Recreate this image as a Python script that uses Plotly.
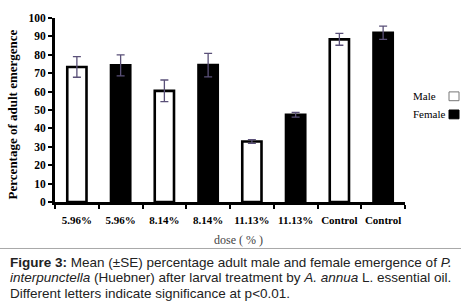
import plotly.graph_objects as go

# ---- data ----
categories = ["5.96%", "5.96%", "8.14%", "8.14%", "11.13%", "11.13%", "Control", "Control"]
male_values = [73.4, 60.4, 32.9, 88.4]
male_se = [5.6, 5.9, 1.0, 3.2]
female_values = [74.3, 74.4, 47.4, 92.0]
female_se = [5.7, 6.4, 1.3, 3.6]
y_ticks = [0, 10, 20, 30, 40, 50, 60, 70, 80, 90, 100]

male_x = [0, 2, 4, 6]
female_x = [1, 3, 5, 7]
positions = list(range(len(categories)))
boundaries = [p - 0.5 for p in positions] + [positions[-1] + 0.5]

W, H = 461, 308
ML, MR, MT, MB = 55, 56, 14, 106
PW, PH = W - ML - MR, H - MT - MB


def px_x(px):
    return (px - ML) / PW


def px_y(py):
    return (H - MB - py) / PH


serif = "Liberation Serif, Times New Roman, serif"
sans = "Liberation Sans, Arial, sans-serif"
err_color = "#5a5078"

fig = go.Figure()
fig.add_trace(go.Bar(
    x=male_x, y=male_values, name="Male", width=0.44,
    marker=dict(color="white", line=dict(color="black", width=2.6)),
    error_y=dict(type="data", array=male_se, visible=True,
                 color=err_color, thickness=1.3, width=4),
    showlegend=False,
))
fig.add_trace(go.Bar(
    x=female_x, y=female_values, name="Female", width=0.44,
    marker=dict(color="black", line=dict(color="black", width=2.6)),
    error_y=dict(type="data", array=female_se, visible=True,
                 color=err_color, thickness=1.3, width=4),
    showlegend=False,
))
# dummy trace to carry the label axis
fig.add_trace(go.Scatter(x=[positions[0], positions[-1]], y=[None, None],
                         xaxis="x2", mode="markers", showlegend=False,
                         hoverinfo="skip"))

fig.update_layout(
    width=W, height=H,
    margin=dict(l=ML, r=MR, t=MT, b=MB),
    paper_bgcolor="white", plot_bgcolor="white",
    barmode="overlay",
    showlegend=False,
    xaxis=dict(
        range=[-0.5, 7.5], tickmode="array", tickvals=boundaries,
        ticktext=[""] * len(boundaries),
        ticks="outside", ticklen=4, tickwidth=2, tickcolor="black",
        showline=True, linecolor="black", linewidth=3,
        showgrid=False, zeroline=False, fixedrange=True,
    ),
    xaxis2=dict(
        overlaying="x", side="bottom", anchor="y",
        range=[-0.5, 7.5], tickmode="array", tickvals=positions,
        ticktext=["<b>%s</b>" % c for c in categories],
        ticks="", showline=False, showgrid=False, zeroline=False,
        tickfont=dict(family=serif, size=11, color="black"),
        ticklabelstandoff=10,
    ),
    yaxis=dict(
        range=[0, 100], tickmode="array", tickvals=y_ticks,
        ticktext=["<b>%d</b>" % v for v in y_ticks],
        ticks="outside", ticklen=4, tickwidth=2, tickcolor="black",
        showline=True, linecolor="black", linewidth=3,
        showgrid=False, zeroline=False,
        tickfont=dict(family=serif, size=11.5, color="black"),
    ),
)

annotations = [
    dict(text="<b>Percentage of adult emergence</b>", textangle=-90,
         x=px_x(12), y=px_y(112.5), xref="paper", yref="paper",
         xanchor="center", yanchor="middle", showarrow=False,
         font=dict(family=serif, size=13, color="black")),
    dict(text="dose ( % )", x=px_x(238), y=px_y(241), xref="paper", yref="paper",
         xanchor="center", yanchor="middle", showarrow=False,
         font=dict(family=serif, size=12, color="#444")),
    dict(text="Male", x=px_x(411), y=px_y(94), xref="paper", yref="paper",
         xanchor="left", yanchor="middle", showarrow=False,
         font=dict(family=serif, size=11, color="black")),
    dict(text="Female", x=px_x(411), y=px_y(112.5), xref="paper", yref="paper",
         xanchor="left", yanchor="middle", showarrow=False,
         font=dict(family=serif, size=11, color="black")),
    dict(text="<b>Figure 3:</b> Mean (±SE) percentage adult male and female emergence of <i>P.</i>",
         x=px_x(8), y=px_y(264), xref="paper", yref="paper",
         xanchor="left", yanchor="middle", showarrow=False,
         font=dict(family=sans, size=13.5, color="#222")),
    dict(text="<i>interpunctella</i> (Huebner) after larval treatment by <i>A. annua</i> L. essential oil.",
         x=px_x(8), y=px_y(279.5), xref="paper", yref="paper",
         xanchor="left", yanchor="middle", showarrow=False,
         font=dict(family=sans, size=13.5, color="#222")),
    dict(text="Different letters indicate significance at p<0.01.",
         x=px_x(8), y=px_y(295), xref="paper", yref="paper",
         xanchor="left", yanchor="middle", showarrow=False,
         font=dict(family=sans, size=13.5, color="#222")),
]
fig.update_layout(annotations=annotations)

shapes = [
    dict(type="line", xref="paper", yref="paper",
         x0=px_x(0), x1=px_x(W), y0=px_y(249.5), y1=px_y(249.5),
         line=dict(color="#a8a8a8", width=1)),
    dict(type="rect", xref="paper", yref="paper",
         x0=px_x(449), x1=px_x(459), y0=px_y(98.5), y1=px_y(89.5),
         fillcolor="white", line=dict(color="#777", width=1)),
    dict(type="rect", xref="paper", yref="paper",
         x0=px_x(449), x1=px_x(459), y0=px_y(117), y1=px_y(108),
         fillcolor="black", line=dict(color="black", width=1)),
]
fig.update_layout(shapes=shapes)

fig.write_html(
    "out.html",
    config={"displayModeBar": False},
    post_script="document.body.style.margin='0';document.body.style.padding='0';",
)
